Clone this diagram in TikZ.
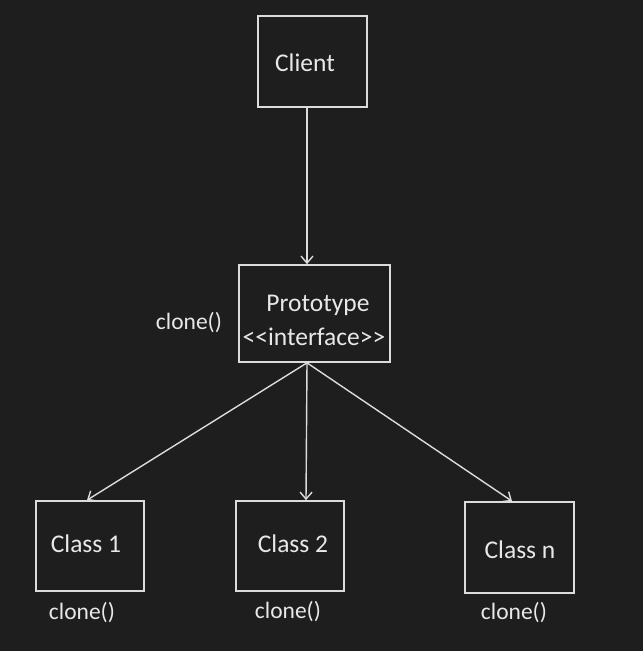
\documentclass[tikz,border=0pt]{standalone}
\usepackage{fontspec}
\setmainfont{Carlito}
\usetikzlibrary{arrows.meta}
\definecolor{bgc}{HTML}{1E1E1E}
\definecolor{fgc}{HTML}{DCDCDC}
\definecolor{txc}{HTML}{E8E8E8}
\begin{document}
\begin{tikzpicture}[x=1pt,y=-1pt,
  box/.style={draw=fgc, line width=1.7pt, minimum width=#1, inner sep=0pt},
  lbl/.style={text=txc, inner sep=0pt, font=\fontsize{25.5}{32}\selectfont},
  mth/.style={text=txc, inner sep=0pt, font=\fontsize{23.5}{28}\selectfont},
  conn/.style={draw=fgc, line width=1.4pt, -{Straight Barb[length=7pt,width=12pt,line width=1.4pt]}}]
\fill[bgc] (0,0) rectangle (643,651);
\useasboundingbox (0,0) rectangle (643,651);
% boxes
\node[box=109pt, minimum height=91pt] (client) at (312.5,61.5) {};
\node[box=151pt, minimum height=97pt] (proto) at (314.5,313.5) {};
\node[box=108pt, minimum height=90pt] (c1) at (90,546) {};
\node[box=108pt, minimum height=90pt] (c2) at (290,546) {};
\node[box=109pt, minimum height=91pt] (cn) at (519.5,547.5) {};
% texts
\node[lbl] (clientT) at (305,63) {Client};
\node[lbl] (protoT1) at (318,305) {Prototype};
\node[lbl] (protoT2) at (314,337) {<{}<interface>{}>};
\node[lbl] (c1T) at (86,544) {Class 1};
\node[lbl] (c2T) at (293,544) {Class 2};
\node[lbl] (cnT) at (520,550) {Class n};
\node[mth] (pm) at (189,323) {clone()};
\node[mth] (c1m) at (82,613) {clone()};
\node[mth] (c2m) at (288,612) {clone()};
\node[mth] (cnm) at (514,613) {clone()};
% connectors
\draw[conn] ([xshift=-5.5pt]client.south) -- ([xshift=-7.5pt]proto.north);
\draw[conn] ([xshift=-7.5pt]proto.south) -- ([xshift=-3pt]c1.north);
\draw[conn] ([xshift=-7.5pt]proto.south) -- ([xshift=16pt]c2.north);
\draw[conn] ([xshift=-7.5pt]proto.south) -- ([xshift=-7.5pt]cn.north);
\end{tikzpicture}
\end{document}
